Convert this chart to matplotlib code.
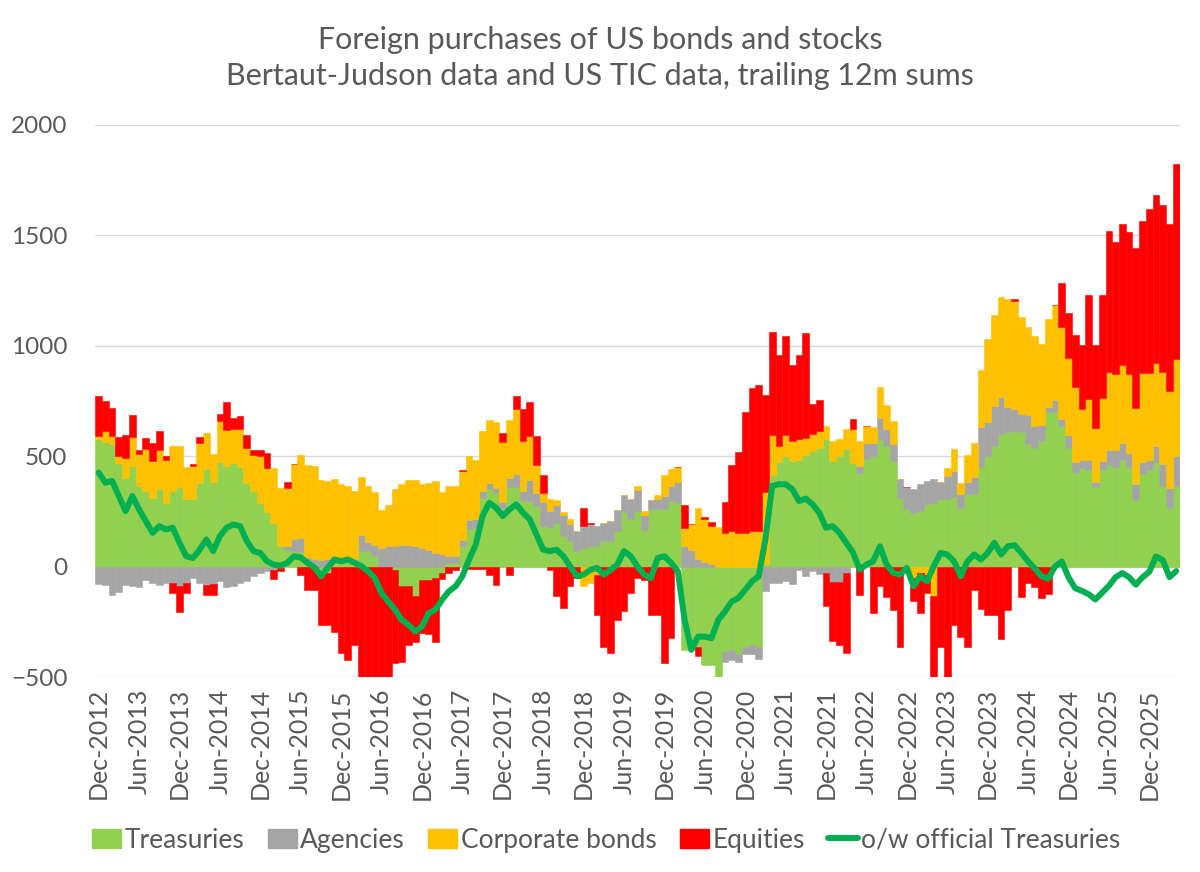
import matplotlib
matplotlib.use("Agg")
import matplotlib.pyplot as plt
from matplotlib.patches import Patch
from matplotlib.lines import Line2D
import numpy as np

# monthly, Dec-2012 .. Apr-2026, trailing 12m sums
months = ["Dec", "Jan", "Feb", "Mar", "Apr", "May", "Jun", "Jul", "Aug", "Sep", "Oct", "Nov"]
n_months = 161
dates = [f"{months[i % 12]}-{2012 + (i + 11) // 12}" for i in range(n_months)]

treasuries = [
    580, 565, 554, 471, 403, 456, 365, 342, 312, 350, 289, 342, 362, 308, 308, 380,
    441, 383, 474, 456, 468, 453, 377, 342, 289, 247, 198, 95, 77, 70, 65, 20,
    17, -36, -29, 17, 32, 29, 17, 70, 70, 47, 0, 0, -14, -89, -89, -132,
    -59, -59, -52, -29, 17, 17, 92, 171, 175, 312, 350, 335, 267, 362, 362, 297,
    297, 274, 183, 176, 198, 138, 118, 70, 85, 92, 95, 115, 118, 161, 247, 217,
    251, 164, 262, 259, 259, 297, 289, -377, -377, -362, -445, -445, -498, -385, -377, -395,
    -365, -355, -362, 10, 414, 474, 501, 479, 482, 504, 524, 539, 580, 479, 501, 532,
    471, 426, 489, 501, 577, 547, 479, 312, 259, 244, 251, 282, 289, 305, 308, 317,
    267, 327, 327, 453, 501, 547, 600, 611, 615, 611, 554, 537, 569, 698, 701, 639,
    537, 428, 448, 436, 361, 436, 460, 452, 483, 452, 303, 420, 436, 475, 366, 264,
    366,
]
agencies = [
    -77, -82, -130, -115, -82, -86, -94, -62, -74, -82, -74, -74, -89, -74, -52, -74,
    -82, -77, -67, -92, -86, -74, -67, -44, -29, -21, -14, -6, 18, 56, 65, 24,
    18, 32, 35, 23, 8, 11, 18, 71, 41, 53, 85, 92, 95, 100, 100, 92,
    85, 77, 62, 55, 30, 33, 27, 42, 42, 30, 30, 23, 26, 41, 56, 45,
    94, 61, 109, 76, 79, 94, 73, 91, 98, 102, 88, 83, 88, 95, 76, 88,
    95, 68, 39, 48, 60, 68, 94, 95, 77, 35, 20, 12, 0, -45, -45, -35,
    -30, -41, -58, -112, -74, -74, -67, -77, -14, -44, -21, -32, -29, -71, -71, -29,
    0, 30, 73, 61, 94, 76, 76, 83, 103, 106, 121, 106, 109, 79, 102, 117,
    61, 56, 80, 177, 152, 182, 167, 111, 98, 80, 132, 101, 73, 27, 55, 31,
    58, 47, 37, 47, 20, 42, 70, 78, 75, 62, 73, 55, 47, 70, 98, 94,
    136,
]
corporates = [
    12, 50, 38, 30, 91, 133, 144, 189, 164, 179, 192, 205, 182, 141, 148, 179,
    164, 126, 186, 162, 155, 170, 162, 162, 212, 201, 250, 262, 262, 338, 374, 415,
    421, 359, 353, 356, 333, 326, 308, 265, 255, 239, 170, 186, 255, 273, 291, 298,
    288, 303, 324, 285, 318, 315, 314, 288, 265, 273, 285, 295, 270, 262, 295, 227,
    202, 124, 42, 53, 24, 15, 23, 0, -89, -74, -36, 0, 0, 0, 0, 0,
    20, 20, 0, 17, 95, 76, 68, 80, 114, 232, 194, 171, 179, 153, 161, 153,
    153, 161, 161, 328, 182, 73, 94, 91, 98, 80, 76, 76, 58, 91, 76, 91,
    152, 114, 73, 68, 141, 109, 103, 0, -29, -52, -29, -36, -135, 0, 38, 98,
    50, 121, 152, 262, 376, 412, 455, 492, 492, 439, 401, 406, 368, 398, 429, 413,
    351, 339, 228, 278, 245, 285, 351, 340, 357, 356, 340, 401, 393, 379, 417, 437,
    437,
]
equities = [
    182, 136, 124, 88, 102, 97, 20, 50, 86, 83, 20, -45, -118, -45, 8, 30,
    -48, -53, 30, 126, 48, 58, 59, 24, 27, 68, -42, -15, 26, 0, -36, -105,
    -105, -227, -235, -298, -389, -423, -355, -498, -498, -498, -506, -506, -424, -344, -265, -208,
    -242, -245, -288, -27, -29, -14, 3, -11, -11, -11, -36, -82, 42, -36, 61, 144,
    152, 133, 79, -14, -135, -188, -89, -52, 83, 5, -182, -362, -392, -241, -203, -120,
    -52, -59, -218, -218, -438, -324, 0, 102, 0, -42, 12, 18, -8, 139, 298, 367,
    545, 647, 662, 439, 467, 412, 451, 344, 376, 474, 136, 141, -148, -268, -283, -364,
    47, -127, 0, -208, -89, -138, -198, -365, 0, -106, -182, -83, -371, -362, -506, -264,
    -317, -362, -105, -192, -218, -218, -329, -195, 5, -139, -74, -94, -142, -126, 0, 200,
    204, 236, 292, 471, 379, 468, 640, 599, 636, 643, 725, 691, 743, 757, 757, 757,
    886,
]
official = [
    426, 380, 388, 320, 251, 320, 259, 206, 153, 183, 168, 176, 108, 47, 39, 77,
    123, 70, 138, 176, 191, 183, 115, 70, 62, 24, 9, 5, 17, 47, 42, 17,
    -2, -44, -6, 32, 24, 32, 17, 2, -21, -52, -120, -158, -195, -241, -264, -294,
    -271, -211, -195, -150, -112, -89, -44, 32, 100, 229, 289, 267, 229, 259, 282, 244,
    214, 145, 77, 70, 77, 47, 2, -44, -36, -15, -6, -36, -15, 9, 70, 47,
    0, -36, -52, 39, 47, 17, -21, -241, -377, -317, -317, -324, -241, -203, -158, -142,
    -105, -67, -44, 123, 365, 373, 373, 350, 297, 308, 282, 244, 176, 183, 153, 108,
    65, -14, 9, 24, 92, 9, -29, -36, -6, -89, -44, -67, 2, 62, 55, 24,
    -44, 24, 55, 32, 62, 108, 55, 92, 97, 62, 24, -9, -44, -55, 0, 23,
    -48, -98, -110, -125, -149, -118, -87, -48, -29, -48, -82, -48, -24, 46, 30, -48,
    -20,
]

SERIES = [
    ("Treasuries", treasuries, "#92D050"),
    ("Agencies", agencies, "#A5A5A5"),
    ("Corporate bonds", corporates, "#FFC000"),
    ("Equities", equities, "#FF0000"),
]
LINE_COLOR = "#00B050"
TEXT_COLOR = "#595959"

plt.rcParams.update({
    "font.family": ["Lato", "DejaVu Sans"],
    "font.size": 17,
    "text.color": TEXT_COLOR,
    "xtick.color": TEXT_COLOR,
    "ytick.color": TEXT_COLOR,
})

fig = plt.figure(figsize=(12, 8.72), dpi=100)
ax = fig.add_axes([0.0794, 0.2236, 0.9036, 0.6331])

x = np.arange(n_months)
pos_base = np.zeros(n_months)
neg_base = np.zeros(n_months)
for label, values, color in SERIES:
    v = np.array(values, dtype=float)
    bottom = np.where(v >= 0, pos_base, neg_base)
    ax.bar(x, v, bottom=bottom, width=1.0, color=color,
           edgecolor=color, linewidth=0.4, zorder=2)
    pos_base += np.clip(v, 0, None)
    neg_base += np.clip(v, None, 0)

ax.plot(x, official, color=LINE_COLOR, linewidth=4.3,
        solid_joinstyle="round", solid_capstyle="round", zorder=5)

ax.set_xlim(-0.5, n_months - 0.5)
ax.set_ylim(-500, 2000)
ax.set_yticks(range(-500, 2001, 500))
ax.set_xticks(x[::6])
ax.set_xticklabels([dates[i] for i in x[::6]], rotation=90)
ax.tick_params(axis="y", length=0, labelsize=17.5, pad=20)
ax.tick_params(axis="x", length=0, labelsize=18, pad=8)
ax.grid(axis="y", color="#D9D9D9", linewidth=1.0, zorder=0)
ax.set_axisbelow(True)
for s in ax.spines.values():
    s.set_visible(False)

fig.text(0.5, 1 - 40 / 872, "Foreign purchases of US bonds and stocks",
         ha="center", va="center", fontsize=22, color=TEXT_COLOR)
fig.text(0.5, 1 - 76 / 872, "Bertaut-Judson data and US TIC data, trailing 12m sums",
         ha="center", va="center", fontsize=22, color=TEXT_COLOR)

handles = [Patch(facecolor=c, edgecolor=c) for _, _, c in SERIES]
handles.append(Line2D([0], [0], color=LINE_COLOR, linewidth=4.3, solid_capstyle="round"))
labels = [s[0] for s in SERIES] + ["o/w official Treasuries"]
fig.legend(handles, labels, loc="center", bbox_to_anchor=(0.505, 1 - 840 / 872),
           ncol=5, frameon=False, fontsize=19, handlelength=1.1,
           handleheight=0.7, handletextpad=0.12, columnspacing=0.9)

fig.savefig("out.png", dpi=100)
